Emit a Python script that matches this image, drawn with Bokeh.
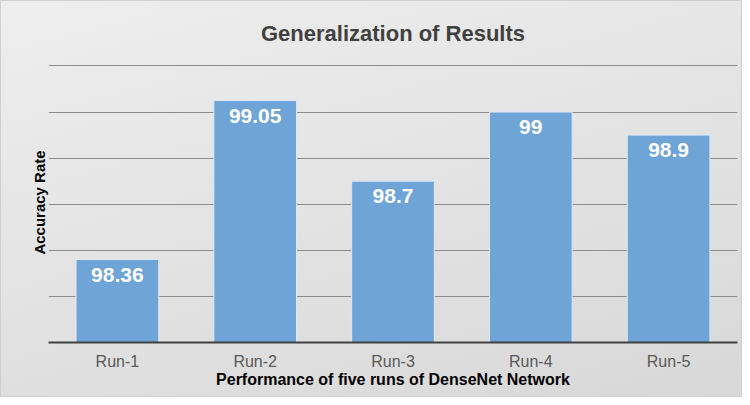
from bokeh.plotting import figure
from bokeh.models import FactorRange, Range1d, FixedTicker, ColumnDataSource, Title
from bokeh.core.properties import value
from bokeh.embed import file_html
from bokeh.resources import INLINE

runs = ["Run-1", "Run-2", "Run-3", "Run-4", "Run-5"]
accuracy = [98.36, 99.05, 98.7, 99.0, 98.9]
labels = ["98.36", "99.05", "98.7", "99", "98.9"]
y_ticks = [98.0, 98.2, 98.4, 98.6, 98.8, 99.0, 99.2]

src = ColumnDataSource(dict(run=runs, acc=accuracy, lab=labels))

FONT = "Liberation Sans"

p = figure(width=742, height=397, output_backend="svg", toolbar_location=None,
           x_range=FactorRange(*runs, range_padding=0),
           y_range=Range1d(98.0, 99.215),
           styles={"background": "linear-gradient(165deg, #eeeeee 0%, #e2e2e2 55%, #d8d8d8 100%)",
                   "box-shadow": "inset 0 0 0 1px #cfcfcf"})

p.min_border_left = 48
p.min_border_right = 5
p.min_border_top = 62
p.min_border_bottom = 55
p.background_fill_alpha = 0
p.border_fill_alpha = 0
p.outline_line_color = None

p.add_layout(Title(text="Generalization of Results", align="center",
                   vertical_align="top", text_font=FONT, text_font_size="22px",
                   text_font_style="bold", text_color="#404040", standoff=30), "above")

p.vbar(x="run", top="acc", bottom=98.0, width=0.6, source=src,
       fill_color="#6fa4d7", line_color="#dce8f4", line_width=1)

p.text(x="run", y="acc", text="lab", source=src, y_offset=15,
       text_align="center", text_baseline="middle",
       text_font=value(FONT), text_font_size="21px", text_font_style="bold",
       text_color="white")

p.ygrid.ticker = FixedTicker(ticks=y_ticks)
p.ygrid.grid_line_color = "#8c8c8c"
p.ygrid.grid_line_width = 1
p.xgrid.grid_line_color = None

p.yaxis.visible = False
p.add_layout(Title(text="Accuracy Rate", align="center", text_font=FONT,
                   text_font_size="15px", text_font_style="bold",
                   text_color="black", standoff=2), "left")

p.xaxis.axis_line_color = "#404040"
p.xaxis.axis_line_width = 2
p.xaxis.major_tick_line_color = None
p.xaxis.minor_tick_line_color = None
p.xaxis.major_label_text_font = FONT
p.xaxis.major_label_text_font_size = "16px"
p.xaxis.major_label_text_color = "#595959"
p.xaxis.major_label_standoff = 4
p.xaxis.axis_label = "Performance of five runs of DenseNet Network"
p.xaxis.axis_label_text_font = FONT
p.xaxis.axis_label_text_font_size = "16px"
p.xaxis.axis_label_text_font_style = "bold"
p.xaxis.axis_label_text_color = "black"
p.xaxis.axis_label_standoff = -2

open("out.html", "w").write(file_html(p, INLINE))
